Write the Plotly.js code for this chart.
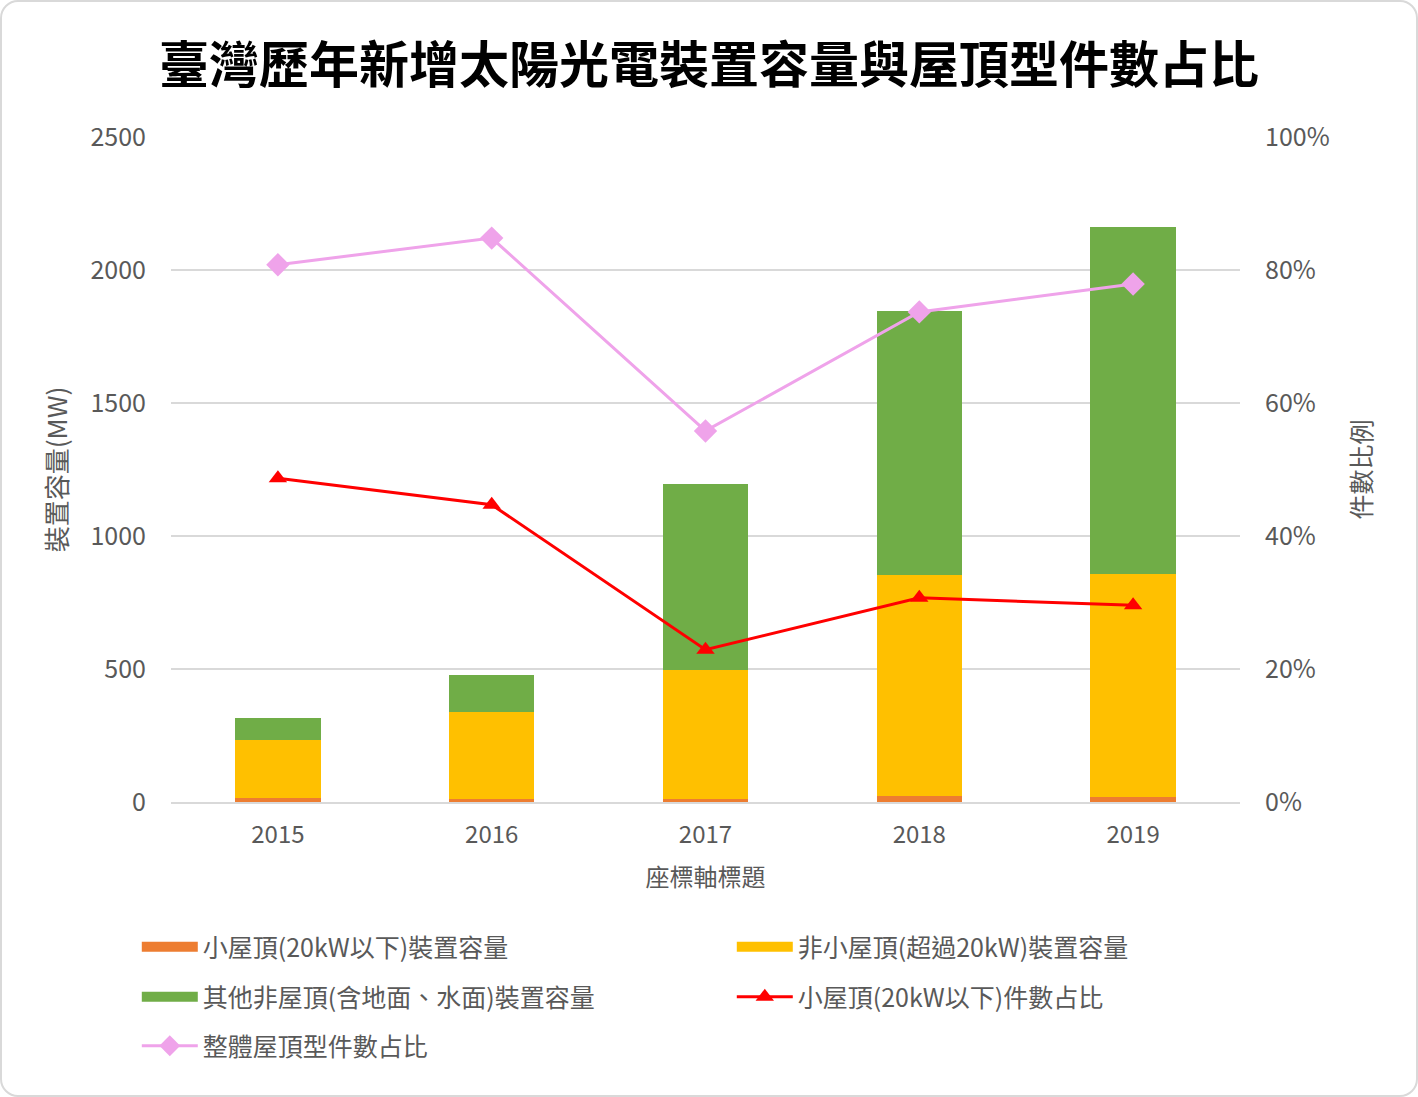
<!DOCTYPE html>
<html>
<head>
<meta charset="utf-8">
<script src="https://cdn.plot.ly/plotly-3.0.1.min.js"></script>
<style>
html,body{margin:0;padding:0;background:#fff;}
#wrap{position:relative;width:1418px;height:1097px;}
#chart{width:1418px;height:1097px;}
#frame{position:absolute;left:0;top:0;width:1418px;height:1097px;box-sizing:border-box;border:2px solid #d9d9d9;border-radius:18px;pointer-events:none;}
</style>
</head>
<body>
<div id="wrap"><div id="chart"></div><div id="frame"></div></div>
<script>
const years = ['2015', '2016', '2017', '2018', '2019'];
const smallRoofMW = [14, 13, 10, 22, 18];
const largeRoofMW = [219, 325, 486, 831, 839];
const otherMW = [83, 139, 699, 993, 1305];
const smallRoofShare = [0.487, 0.447, 0.229, 0.307, 0.296];
const roofShare = [0.808, 0.848, 0.558, 0.737, 0.779];

const names = {
  small: '小屋頂(20kW以下)裝置容量',
  large: '非小屋頂(超過20kW)裝置容量',
  other: '其他非屋頂(含地面、水面)裝置容量',
  smallShare: '小屋頂(20kW以下)件數占比',
  roofShare: '整體屋頂型件數占比'
};
const colors = {small:'#ED7D31', large:'#FFC000', other:'#70AD47', smallShare:'#FF0000', roofShare:'#EFA3EA'};

const FONT = '"Noto Sans CJK TC", "Noto Sans", sans-serif';

function bar(y, key) {
  return {type:'bar', x: years, y: y, name: names[key], marker:{color:colors[key]}, width:0.4,
          legendgroup:key, showlegend:false};
}
// legend-only entry drawing a wide colour swatch, like the reference legend
function swatch(y, key, legendId) {
  return {type:'scatter', mode:'lines', x: years, y: y.map(() => null), name: names[key],
          line:{color:colors[key], width:16}, legendgroup:key, legend:legendId, hoverinfo:'skip'};
}

const traces = [
  bar(smallRoofMW, 'small'),
  bar(largeRoofMW, 'large'),
  bar(otherMW, 'other'),
  swatch(smallRoofMW, 'small', 'legend'),
  swatch(largeRoofMW, 'large', 'legend'),
  swatch(otherMW, 'other', 'legend2'),
  {type:'scatter', mode:'lines+markers', x: years, y: smallRoofShare, yaxis:'y2', name: names.smallShare,
   line:{color:colors.smallShare, width:3}, marker:{symbol:'triangle-up', size:16, color:colors.smallShare}, legend:'legend2'},
  {type:'scatter', mode:'lines+markers', x: years, y: roofShare, yaxis:'y2', name: names.roofShare,
   line:{color:colors.roofShare, width:3}, marker:{symbol:'diamond', size:18, color:colors.roofShare}, legend:'legend3'}
];

const legendBase = {
  orientation:'h', xanchor:'left', yanchor:'middle', x:-0.032, itemwidth:56,
  font:{family:FONT, size:25, color:'#595959'}, entrywidth:524, traceorder:'normal',
  bgcolor:'rgba(0,0,0,0)'
};

const layout = {
  width:1418, height:1097,
  margin:{l:171, r:178, t:137, b:295},
  paper_bgcolor:'#fff', plot_bgcolor:'#fff',
  font:{family:FONT, color:'#595959'},
  barmode:'stack',
  bargap:0.6,
  title:{text:'臺灣歷年新增太陽光電裝置容量與屋頂型件數占比', font:{family:FONT, size:50, color:'#000', weight:'bold'},
         x:0.5, xanchor:'center', y:1-65/1097, yref:'container', yanchor:'middle'},
  xaxis:{type:'category', showgrid:false, showline:true, linecolor:'#d9d9d9', linewidth:2,
         tickfont:{family:FONT, size:24, color:'#595959'}, ticks:'', ticklabelstandoff:10,
         title:{text:'座標軸標題', font:{family:FONT, size:24, color:'#595959'}, standoff:20}},
  yaxis:{range:[0,2500], tickvals:[0,500,1000,1500,2000,2500], showgrid:true, gridcolor:'#d9d9d9', gridwidth:1.5,
         zeroline:false, showline:false, ticks:'', tickfont:{family:FONT, size:25, color:'#595959'}, ticklabelstandoff:24,
         title:{text:'裝置容量(MW)', font:{family:FONT, size:26, color:'#595959'}, standoff:15}},
  yaxis2:{overlaying:'y', side:'right', range:[0,1], tickvals:[0,0.2,0.4,0.6,0.8,1], tickformat:'.0%',
          showgrid:false, zeroline:false, showline:false, ticks:'', tickfont:{family:FONT, size:25, color:'#595959'}, ticklabelstandoff:24,
          title:{text:'件數比例', font:{family:FONT, size:25, color:'#595959'}, standoff:24}},
  legend:Object.assign({}, legendBase, {y:(802-947)/665}),
  legend2:Object.assign({}, legendBase, {y:(802-997)/665}),
  legend3:Object.assign({}, legendBase, {y:(802-1046)/665}),
  showlegend:true
};

Plotly.newPlot('chart', traces, layout, {displayModeBar:false, staticPlot:true});
</script>
</body>
</html>
